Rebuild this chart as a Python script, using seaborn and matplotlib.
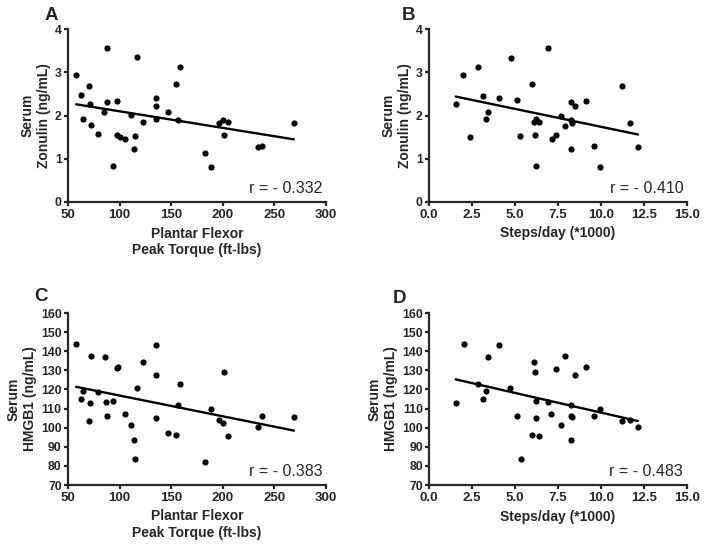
import numpy as np
import pandas as pd
import matplotlib
matplotlib.use("Agg")
import matplotlib.pyplot as plt
import seaborn as sns

# Panel A: plantar flexor peak torque vs serum zonulin
torque_a = [57.8, 62.3, 64.6, 70.4, 71.7, 72.6, 79.1, 85.3, 87.5, 87.5,
            93.3, 97.9, 97.2, 100.1, 105.3, 111.4, 114.4, 115.3, 117.3, 122.8,
            135.4, 135.4, 135.4, 147.3, 154.5, 156.4, 158.7, 183.2, 188.1, 196.5,
            200.4, 201.4, 204.6, 234.0, 238.2, 268.9]
zonulin_a = [2.93, 2.47, 1.91, 2.69, 2.27, 1.77, 1.57, 2.07, 3.57, 2.32,
             0.84, 2.33, 1.56, 1.51, 1.46, 2.01, 1.22, 1.52, 3.35, 1.85,
             2.41, 2.23, 1.91, 2.07, 2.73, 1.90, 3.11, 1.14, 0.81, 1.83,
             1.90, 1.56, 1.84, 1.28, 1.30, 1.83]

# Panel B: steps/day vs serum zonulin
steps_b = [1.55, 2.00, 2.39, 2.87, 3.12, 3.34, 3.43, 4.08, 4.74, 5.14,
           5.30, 5.98, 6.15, 6.13, 6.21, 6.23, 6.42, 6.89, 7.16, 7.36,
           7.70, 7.92, 8.25, 8.25, 8.27, 8.33, 8.48, 9.10, 9.61, 9.92,
           11.22, 11.70, 12.15]
zonulin_b = [2.27, 2.93, 1.51, 3.11, 2.46, 1.91, 2.07, 2.41, 3.34, 2.36,
             1.52, 2.73, 1.56, 1.86, 1.91, 0.84, 1.84, 3.57, 1.46, 1.56,
             2.00, 1.76, 2.32, 1.90, 1.22, 1.83, 2.23, 2.33, 1.30, 0.81,
             2.68, 1.83, 1.28]

# Panel C: plantar flexor peak torque vs serum HMGB1
torque_c = [57.8, 62.3, 64.6, 70.4, 71.7, 72.3, 79.1, 85.6, 87.2, 87.5,
            93.3, 97.2, 98.5, 105.3, 111.4, 114.4, 115.3, 117.3, 122.4, 135.4,
            135.4, 135.4, 147.3, 154.5, 156.4, 158.7, 183.2, 188.1, 196.5, 201.4,
            200.4, 204.6, 234.0, 238.2, 268.9]
hmgb1_c = [143.6, 115.1, 119.3, 103.6, 112.7, 137.7, 118.9, 136.9, 113.2, 106.2,
           113.7, 131.1, 131.6, 107.4, 101.2, 93.3, 83.6, 121.0, 134.1, 127.3,
           143.3, 105.0, 97.2, 96.1, 112.0, 122.8, 82.0, 109.9, 104.1, 129.2,
           102.2, 95.6, 100.5, 106.0, 105.7]

# Panel D: steps/day vs serum HMGB1
steps_d = [1.55, 2.02, 2.85, 3.12, 3.34, 3.43, 4.08, 4.72, 5.14, 5.32,
           5.98, 6.09, 6.17, 6.21, 6.21, 6.42, 6.89, 7.12, 7.36, 7.70,
           7.92, 8.25, 8.27, 8.33, 8.27, 8.48, 9.10, 9.61, 9.92, 11.22,
           11.70, 12.15]
hmgb1_d = [112.7, 143.6, 122.9, 115.1, 119.3, 136.9, 143.3, 121.0, 106.2, 83.6,
           96.1, 134.1, 129.2, 113.7, 105.0, 95.6, 113.2, 107.4, 130.8, 101.2,
           137.7, 112.0, 106.2, 105.7, 93.3, 127.3, 131.5, 106.0, 109.9, 103.6,
           104.1, 100.5]

r_labels = ["r = - 0.332", "r = - 0.410", "r = - 0.383", "r = - 0.483"]
panel_letters = ["A", "B", "C", "D"]

torque_label = "Plantar Flexor\nPeak Torque (ft-lbs)"
steps_label = "Steps/day (*1000)"
zonulin_label = "Serum\nZonulin (ng/mL)"
hmgb1_label = "Serum\nHMGB1 (ng/mL)"

sns.set_style("ticks")
plt.rcParams["font.family"] = ["Liberation Sans", "DejaVu Sans"]
plt.rcParams["axes.linewidth"] = 1.6
plt.rcParams["xtick.major.width"] = 1.6
plt.rcParams["ytick.major.width"] = 1.6
plt.rcParams["xtick.major.size"] = 3
plt.rcParams["ytick.major.size"] = 3
plt.rcParams["xtick.major.pad"] = 2
plt.rcParams["ytick.major.pad"] = 1.5

W, H = 704, 549
fig = plt.figure(figsize=(W / 100, H / 100), dpi=100)


def px_axes(left, top, right, bottom):
    # axes placed by pixel box measured on the reference
    return fig.add_axes([left / W, 1 - bottom / H, (right - left) / W, (bottom - top) / H])


panels = [
    (px_axes(68, 29, 326, 202), torque_a, zonulin_a, torque_label, zonulin_label),
    (px_axes(429, 29, 687, 202), steps_b, zonulin_b, steps_label, zonulin_label),
    (px_axes(68, 313, 326, 485), torque_c, hmgb1_c, torque_label, hmgb1_label),
    (px_axes(429, 313, 687, 485), steps_d, hmgb1_d, steps_label, hmgb1_label),
]

letter_pos = [(45, 7), (402, 7), (34, 288), (393, 290)]

for i, (ax, x, y, xlab, ylab) in enumerate(panels):
    df = pd.DataFrame({"x": x, "y": y})
    sns.regplot(data=df, x="x", y="y", ax=ax, ci=None, color="black",
                scatter_kws={"s": 20, "linewidths": 0, "alpha": 1, "clip_on": False},
                line_kws={"linewidth": 1.7})
    sns.despine(ax=ax)

    if xlab == torque_label:
        ax.set_xlim(50, 300)
        ax.set_xticks(np.arange(50, 301, 50))
    else:
        ax.set_xlim(0, 15)
        ax.set_xticks(np.arange(0, 15.1, 2.5))
        ax.set_xticklabels([f"{v:.1f}" for v in np.arange(0, 15.1, 2.5)])

    if ylab == zonulin_label:
        ax.set_ylim(0, 4)
        ax.set_yticks(np.arange(0, 5, 1))
    else:
        ax.set_ylim(70, 160)
        ax.set_yticks(np.arange(70, 161, 10))

    for lab in ax.get_xticklabels():
        lab.set_fontsize(9.5)
        lab.set_fontweight("bold")
    for lab in ax.get_yticklabels():
        lab.set_fontsize(8.8)
        lab.set_fontweight("bold")

    ax.set_xlabel(xlab, fontsize=10, fontweight="bold", labelpad=4)
    ax.set_ylabel(ylab, fontsize=10, fontweight="bold", labelpad=3)

    ax.text(0.985, 0.035, r_labels[i], transform=ax.transAxes,
            ha="right", va="bottom", fontsize=11.5)

    lx, ly = letter_pos[i]
    fig.text(lx / W, 1 - ly / H, panel_letters[i], ha="left", va="top",
             fontsize=13.5, fontweight="bold")

fig.savefig("out.png", dpi=100)
